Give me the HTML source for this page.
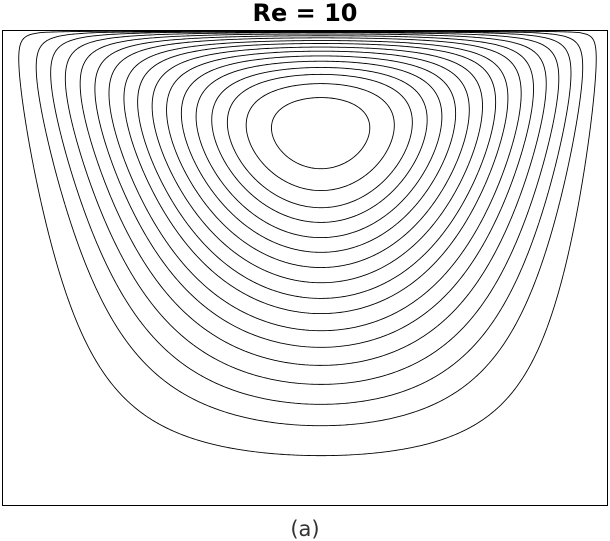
<!DOCTYPE html>
<html><head><meta charset="utf-8">
<style>
html,body{margin:0;padding:0;background:#fff;width:610px;height:541px;overflow:hidden}
svg{display:block}
</style></head>
<body>
<svg id="chart" width="610" height="541" viewBox="0 0 610 541">
  <text x="305" y="21" text-anchor="middle" font-family="DejaVu Sans, Liberation Sans, sans-serif" font-weight="bold" font-size="24" fill="#000">Re = 10</text>
  <rect x="2.5" y="30.5" width="605" height="475" fill="none" stroke="#000" stroke-width="1"/>
  <g id="contours"></g>
  <text x="305" y="536" text-anchor="middle" font-family="DejaVu Sans, Liberation Sans, sans-serif" font-size="21" fill="#333">(a)</text>
</svg>
<script>
// Contour crossings along the vertical centreline, as fraction of cavity height from bottom
const contourDepths = [0.709,0.663,0.627,0.596,0.564,0.533,0.501,0.469,0.436,0.404,0.368,0.333,0.295,0.255,0.213,0.168,0.105];
const domainX = [0,1];
const domainY = [0,1];

const X0=2.5,X1=607.5,Y0=505.5,Y1=30.5;
function sx(v){return X0+(v-domainX[0])/(domainX[1]-domainX[0])*(X1-X0);}
function sy(v){return Y0+(v-domainY[0])/(domainY[1]-domainY[0])*(Y1-Y0);}
function f(x,y){const xs=Math.pow(x,1.08);const t=4*xs*(1-xs);const p=2.95-1.95*Math.pow(y,1.4);return t>0?Math.pow(t,p):0;}
function gRaw(y){return y>0&&y<1?Math.pow(y,2)*Math.pow(1-y,0.53):0;}
const gMax=gRaw(2/2.53);
function psi(x,y){return f(x,y)*gRaw(y)/gMax;}
const xc=Math.pow(0.5,1/1.08);
const levels=contourDepths.map(d=>psi(xc,d));

const NX=300,NY=240;
const grid=[];
for(let j=0;j<=NY;j++){const row=[];for(let i=0;i<=NX;i++)row.push(psi(i/NX,j/NY));grid.push(row);}
const g=document.getElementById('contours');
levels.forEach((L,k)=>{
  let d='';
  for(let j=0;j<NY;j++)for(let i=0;i<NX;i++){
    const v=[grid[j][i],grid[j][i+1],grid[j+1][i+1],grid[j+1][i]];
    const p=[[i,j],[i+1,j],[i+1,j+1],[i,j+1]];
    const pts=[];
    for(let e=0;e<4;e++){
      const a=v[e],b=v[(e+1)%4];
      if((a<L)!==(b<L)){
        const t=(L-a)/(b-a);
        const xa=p[e][0]+t*(p[(e+1)%4][0]-p[e][0]);
        const ya=p[e][1]+t*(p[(e+1)%4][1]-p[e][1]);
        pts.push([sx(xa/NX),sy(ya/NY)]);
      }
    }
    for(let q=0;q+1<pts.length;q+=2)
      d+='M'+pts[q][0].toFixed(2)+' '+pts[q][1].toFixed(2)+'L'+pts[q+1][0].toFixed(2)+' '+pts[q+1][1].toFixed(2);
  }
  const path=document.createElementNS('http://www.w3.org/2000/svg','path');
  path.setAttribute('d',d);
  path.setAttribute('fill','none');
  path.setAttribute('stroke','#000');
  path.setAttribute('stroke-width','0.9');
  
  
  g.appendChild(path);
});
</script>
</body></html>
